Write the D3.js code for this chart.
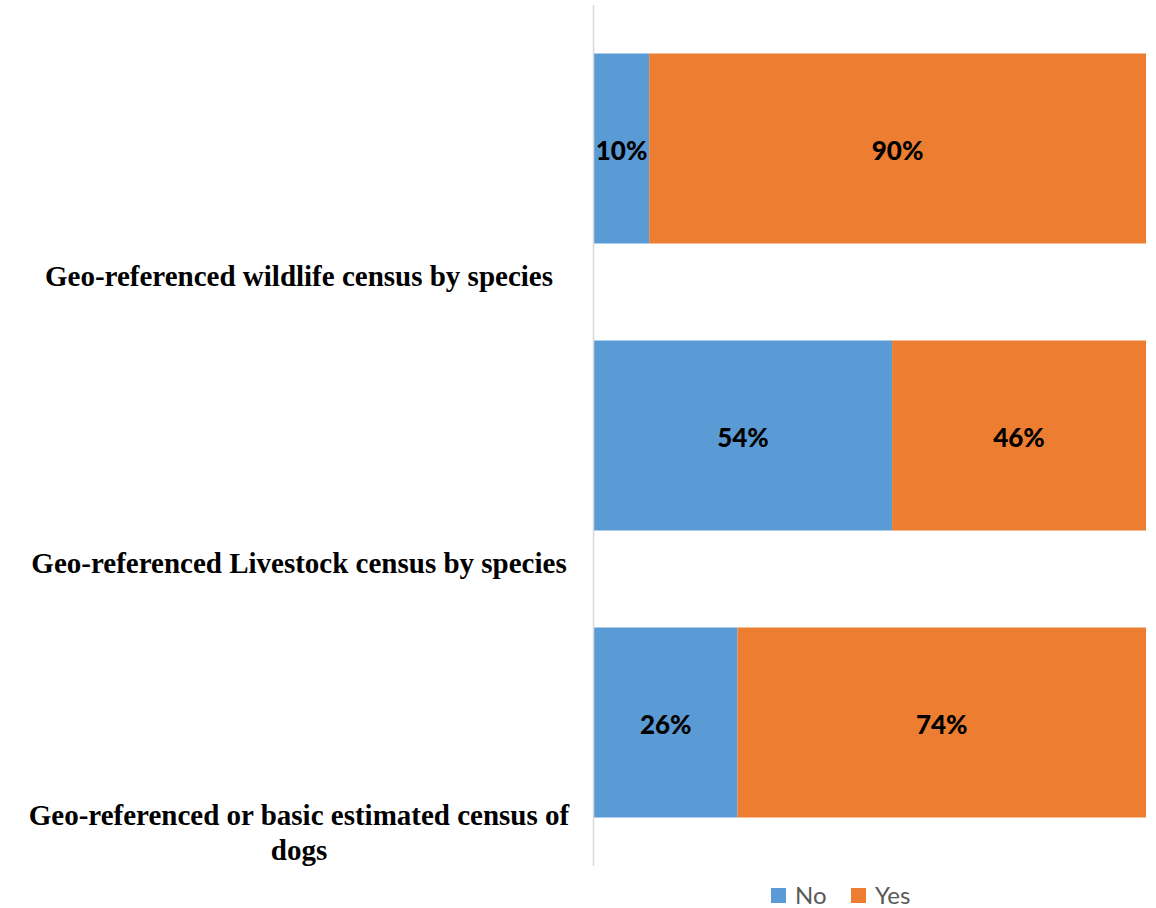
<!DOCTYPE html>
<html><head><meta charset="utf-8">
<script src="https://cdn.jsdelivr.net/npm/d3@7"></script>
<style>body{margin:0;background:#fff}</style>
</head><body>
<svg id="chart" width="1156" height="908"></svg>
<script>
const categories = [
  "Geo-referenced wildlife census by species",
  "Geo-referenced Livestock census by species",
  "Geo-referenced or basic estimated census of dogs"
];
const seriesNames = ["No", "Yes"];
const noValues = [0.10, 0.54, 0.26];
const yesValues = [0.90, 0.46, 0.74];
const colors = ["#5B9BD5", "#ED7D31"];

const svg = d3.select("#chart");
const x = d3.scaleLinear().domain([0, 1]).range([594, 1146]);
const y = d3.scaleBand().domain(categories).range([5, 866]).paddingInner(0.338).paddingOuter(0.169);

const rows = categories.map((c, i) => ({cat: c, No: noValues[i], Yes: yesValues[i]}));
const stack = d3.stack().keys(seriesNames)(rows);

const layers = svg.append("g").selectAll("g").data(stack).join("g")
  .attr("fill", (d, i) => colors[i]);
layers.selectAll("rect").data(d => d).join("rect")
  .attr("x", d => x(d[0]))
  .attr("y", d => y(d.data.cat))
  .attr("width", d => x(d[1]) - x(d[0]))
  .attr("height", y.bandwidth());

const fmt = d3.format(".0%");
layers.selectAll("text").data(d => d).join("text")
  .attr("x", d => (x(d[0]) + x(d[1])) / 2)
  .attr("y", d => y(d.data.cat) + y.bandwidth() / 2)
  .attr("dy", "0.45em")
  .attr("text-anchor", "middle")
  .attr("fill", "#000")
  .style("font-family", "Lato, 'Open Sans', sans-serif")
  .style("font-weight", "900")
  .style("font-size", "26px")
  .text(d => fmt(d[1] - d[0]));

// axis line
svg.append("line").attr("x1", 593.5).attr("x2", 593.5).attr("y1", 5).attr("y2", 866)
  .attr("stroke", "#d9d9d9").attr("stroke-width", 1.5);

// category labels, bottom-aligned in each band
const step = y.step();
const lineH = 35;
const labelG = svg.append("g");
categories.forEach(c => {
  const t = labelG.append("text")
    .attr("text-anchor", "middle")
    .style("font-family", "'Liberation Serif', 'Times New Roman', serif")
    .style("font-weight", "bold")
    .style("font-size", "29px")
    .attr("fill", "#000");
  const words = c.split(" ");
  const lines = [];
  let cur = [];
  const probe = t.append("tspan");
  words.forEach(w => {
    cur.push(w);
    probe.text(cur.join(" "));
    if (probe.node().getComputedTextLength() > 562 && cur.length > 1) {
      cur.pop();
      lines.push(cur.join(" "));
      cur = [w];
    }
  });
  lines.push(cur.join(" "));
  probe.remove();
  const bandBottom = y(c) + y.bandwidth() + step * 0.169;
  const lastBase = bandBottom - 6;
  lines.forEach((ln, i) => {
    t.append("tspan").attr("x", 299)
      .attr("y", lastBase - (lines.length - 1 - i) * lineH)
      .text(ln);
  });
});

// legend
const legend = svg.append("g");
const legX = [771, 851];
seriesNames.forEach((s, i) => {
  legend.append("rect").attr("x", legX[i]).attr("y", 888).attr("width", 15).attr("height", 15).attr("fill", colors[i]);
  legend.append("text").attr("x", legX[i] + 24).attr("y", 904)
    .style("font-family", "Lato, 'Open Sans', sans-serif")
    .style("font-size", "24px").attr("fill", "#595959").text(s);
});
</script>
</body></html>
